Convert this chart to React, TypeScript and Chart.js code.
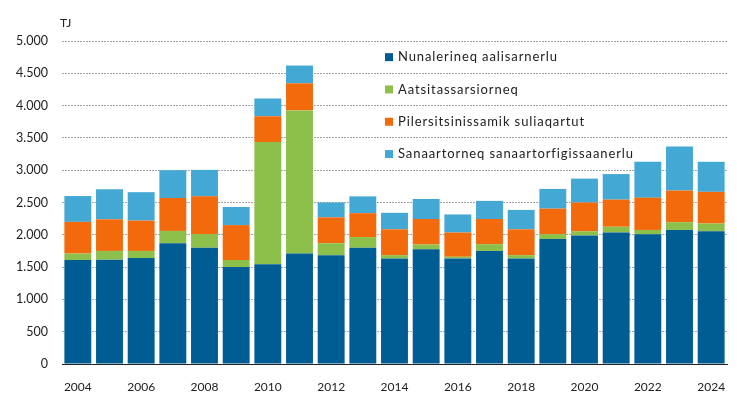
import React, { useEffect, useRef } from "react";
import { Chart, registerables } from "chart.js";

Chart.register(...registerables);

const years = [
  "2004", "2005", "2006", "2007", "2008", "2009", "2010", "2011", "2012", "2013", "2014",
  "2015", "2016", "2017", "2018", "2019", "2020", "2021", "2022", "2023", "2024",
];
const nunalerineq = [1610, 1615, 1640, 1870, 1800, 1500, 1545, 1710, 1685, 1800, 1635, 1775, 1635, 1750, 1635, 1935, 1990, 2035, 2010, 2075, 2055];
const aatsitassarsiorneq = [100, 135, 110, 190, 210, 110, 1890, 2215, 185, 165, 50, 75, 25, 105, 50, 75, 65, 90, 65, 120, 120];
const pilersitsinissamik = [490, 490, 470, 510, 585, 540, 400, 420, 400, 370, 400, 395, 375, 390, 400, 395, 445, 420, 500, 490, 490];
const sanaartorneq = [400, 465, 440, 430, 410, 280, 275, 275, 230, 260, 255, 310, 280, 280, 300, 305, 370, 395, 555, 680, 465];
const seriesNames = [
  "Nunalerineq aalisarnerlu",
  "Aatsitassarsiorneq",
  "Pilersitsinissamik suliaqartut",
  "Sanaartorneq sanaartorfigissaanerlu",
];
const colors = ["#005d93", "#8dbf4b", "#f26a0c", "#44a8d5"];
const yUnit = "TJ";

const FONT = "Lato, 'Open Sans', sans-serif";

const overlayPlugin = {
  id: "overlay",
  afterDraw(chart: any) {
    const ctx = chart.ctx;
    const area = chart.chartArea;
    const y = chart.scales.y;
    ctx.save();
    ctx.fillStyle = "#222";
    ctx.font = `12px ${FONT}`;
    ctx.textBaseline = "middle";
    ctx.textAlign = "left";
    ctx.fillText(yUnit, area.left - 2, area.top - 18);
    // legend inside chart
    const lx = area.left + 323;
    chart.data.datasets.forEach((ds: any, i: number) => {
      const py = y.getPixelForValue(4750 - i * 500);
      ctx.fillStyle = ds.backgroundColor;
      ctx.fillRect(lx, py - 4, 8, 8);
      ctx.fillStyle = "#222";
      ctx.font = `13px ${FONT}`;
      try {
        (ctx as any).letterSpacing = "0.9px";
      } catch (e) {}
      ctx.fillText(ds.label, lx + 13, py);
      try {
        (ctx as any).letterSpacing = "0px";
      } catch (e) {}
    });
    ctx.restore();
  },
};

export default function App() {
  const ref = useRef<HTMLCanvasElement>(null);
  useEffect(() => {
    document.body.style.margin = "0";
    const data = [nunalerineq, aatsitassarsiorneq, pilersitsinissamik, sanaartorneq];
    const chart = new Chart(ref.current!, {
      type: "bar",
      data: {
        labels: years,
        datasets: data.map((d, i) => ({
          label: seriesNames[i],
          data: d,
          backgroundColor: colors[i],
          borderWidth: 0,
          barPercentage: 0.85,
          categoryPercentage: 1,
        })),
      },
      options: {
        responsive: false,
        animation: false,
        layout: { padding: { top: 41, right: 10, left: 0, bottom: 0 } },
        plugins: { legend: { display: false }, tooltip: { enabled: false } },
        scales: {
          x: {
            stacked: true,
            grid: { display: false },
            border: { display: true, color: "#222", width: 1 },
            ticks: {
              autoSkip: false,
              maxRotation: 0,
              color: "#222",
              font: { family: FONT, size: 12 },
              padding: 8,
              callback: (_v: any, i: number) => (i % 2 === 0 ? years[i] : ""),
            },
            afterFit: (s: any) => {
              s.height = 34;
            },
          },
          y: {
            stacked: true,
            min: 0,
            max: 5000,
            border: { display: false, dash: [2, 1] },
            grid: { color: "#a6a6a6", drawTicks: false, lineWidth: 1 },
            ticks: {
              stepSize: 500,
              color: "#222",
              padding: 14,
              font: { family: FONT, size: 12.5 },
              callback: (v: any) => Number(v).toLocaleString("de-DE"),
            },
            afterFit: (s: any) => {
              s.width = 62;
            },
          },
        },
      },
      plugins: [overlayPlugin],
    });
    return () => chart.destroy();
  }, []);
  return (
    <div style={{ width: 737, height: 398 }}>
      <canvas ref={ref} width={737} height={398} />
    </div>
  );
}
